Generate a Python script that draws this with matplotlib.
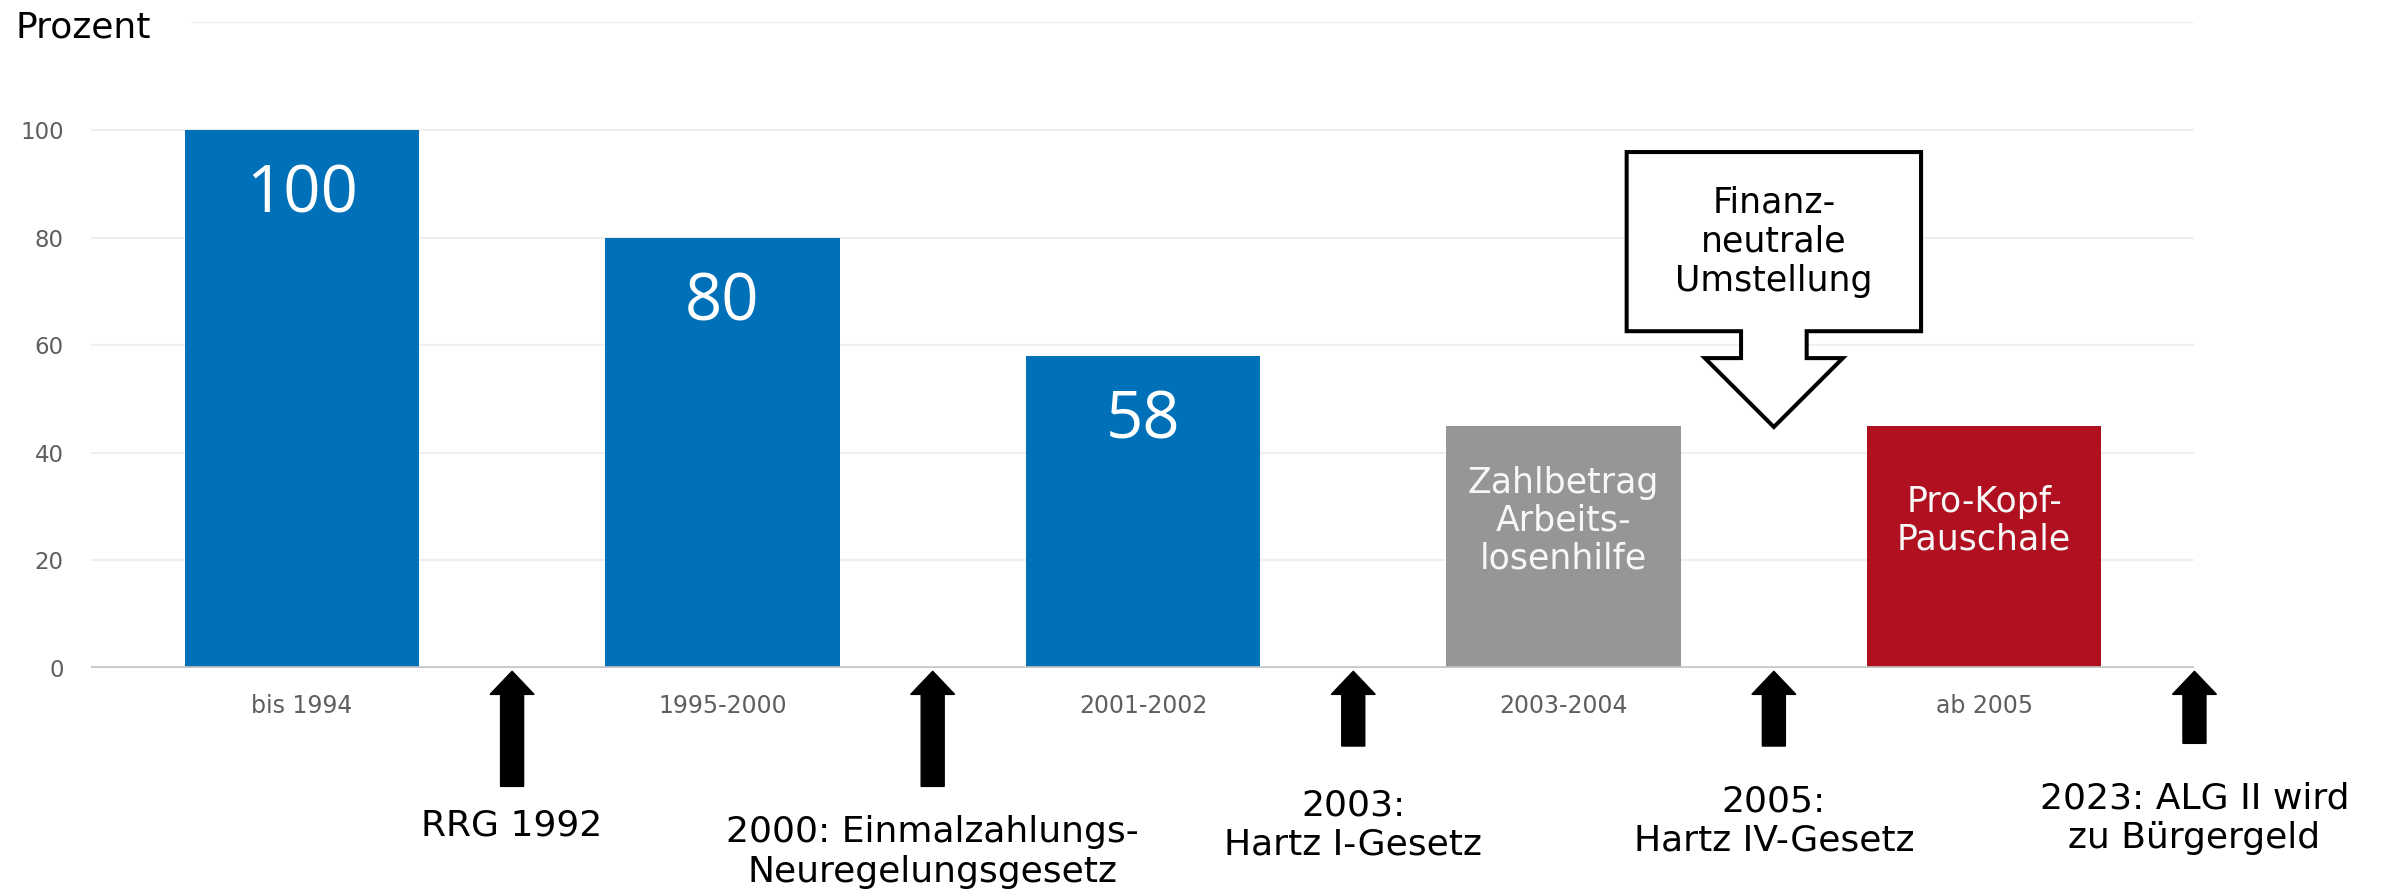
import matplotlib
matplotlib.use("Agg")
import matplotlib.pyplot as plt
from matplotlib.patches import Polygon, FancyArrow
import numpy as np

# Data
categories = ["bis 1994", "1995-2000", "2001-2002", "2003-2004", "ab 2005"]
values = [100, 80, 58, 45, 45]
bar_colors = ["#0070b8", "#0070b8", "#0070b8", "#969696", "#b01020"]
big_labels = ["100", "80", "58"]
text_labels = ["Zahlbetrag\nArbeits-\nlosenhilfe", "Pro-Kopf-\nPauschale"]
events = ["RRG 1992", "2000: Einmalzahlungs-\nNeuregelungsgesetz", "2003:\nHartz I-Gesetz",
          "2005:\nHartz IV-Gesetz", "2023: ALG II wird\nzu Bürgergeld"]
event_pos = [0.5, 1.5, 2.5, 3.5, 4.5]
yticks = [0, 20, 40, 60, 80, 100]
callout_text = "Finanz-\nneutrale\nUmstellung"

plt.rcParams['font.family'] = ['DejaVu Sans']

fig = plt.figure(figsize=(23.9, 8.92), dpi=100)
ax = fig.add_axes([0.03828, 0.2511, 0.8799, 0.7238])

x = np.arange(len(categories))
ax.bar(x, values, width=0.557, color=bar_colors, zorder=2)

ax.set_xlim(-0.5, 4.5)
ax.set_ylim(0, 120)
for s in ax.spines.values():
    s.set_visible(False)

# gridlines
for y in yticks[1:]:
    ax.axhline(y, color="#efefef", lw=1.5, zorder=0)
ax.axhline(120, xmin=0.048, xmax=1, color="#efefef", lw=1.5, zorder=0)
ax.axhline(0, color="#c6c6c6", lw=2.6, zorder=3)

ax.set_yticks(yticks)
ax.set_yticklabels([str(v) for v in yticks])
ax.set_xticks(x)
ax.set_xticklabels(categories)
ax.tick_params(axis="y", length=0, pad=20, labelsize=16.5, labelcolor="#5f5f5f")
ax.tick_params(axis="x", length=0, pad=19, labelsize=17, labelcolor="#5f5f5f")

fig.text(0.0065, 0.9585, "Prozent", fontsize=26, color="black", va="baseline", ha="left")

# numbers inside blue bars
for i, lab in enumerate(big_labels):
    ax.annotate(lab, xy=(x[i], values[i]), xytext=(0, -83), textcoords="offset pixels",
                ha="center", va="baseline", color="white", fontsize=47,
                family=["Open Sans", "DejaVu Sans"], zorder=4)

# text inside gray/red bars
for j, lab in enumerate(text_labels):
    i = 3 + j
    ax.annotate(lab, xy=(x[i], values[i]), xytext=(0, -95), textcoords="offset pixels",
                ha="center", va="center", color="#f7f7f7", fontsize=25,
                linespacing=1.15, zorder=4)

# event arrows below the axis
arrow_bottoms = [-22, -22, -14.5, -14.5, -14]
for xp, yb in zip(event_pos, arrow_bottoms):
    arr = FancyArrow(xp, yb, 0, -0.6 - yb, width=0.0547, head_width=0.1046,
                     head_length=4.3, length_includes_head=True,
                     color="black", clip_on=False, zorder=5)
    ax.add_patch(arr)

event_offsets = [-157, -184, -157, -153, -150]
for xp, lab, off in zip(event_pos, events, event_offsets):
    ax.annotate(lab, xy=(xp, 0), xytext=(0, off), textcoords="offset pixels",
                ha="center", va="center", fontsize=26, color="black",
                linespacing=1.2, annotation_clip=False)

# callout arrow box
tip_x, tip_y = 3.5, values[3] - 0.2
bx0, bx1, by0, by1 = tip_x - 0.35, tip_x + 0.35, 62.6, 95.9
sx0, sx1, hy = tip_x - 0.078, tip_x + 0.078, 57.6
hx0, hx1 = tip_x - 0.164, tip_x + 0.164
pts = [(bx0, by1), (bx1, by1), (bx1, by0), (sx1, by0), (sx1, hy), (hx1, hy),
       (tip_x, tip_y), (hx0, hy), (sx0, hy), (sx0, by0), (bx0, by0)]
ax.add_patch(Polygon(pts, closed=True, facecolor="white", edgecolor="black",
                     lw=2.9, joinstyle="miter", zorder=5))
ax.text(tip_x, (by0 + by1) / 2, callout_text, ha="center", va="center",
        fontsize=25, color="black", linespacing=1.2, zorder=6)

fig.savefig("out.png", dpi=100)
